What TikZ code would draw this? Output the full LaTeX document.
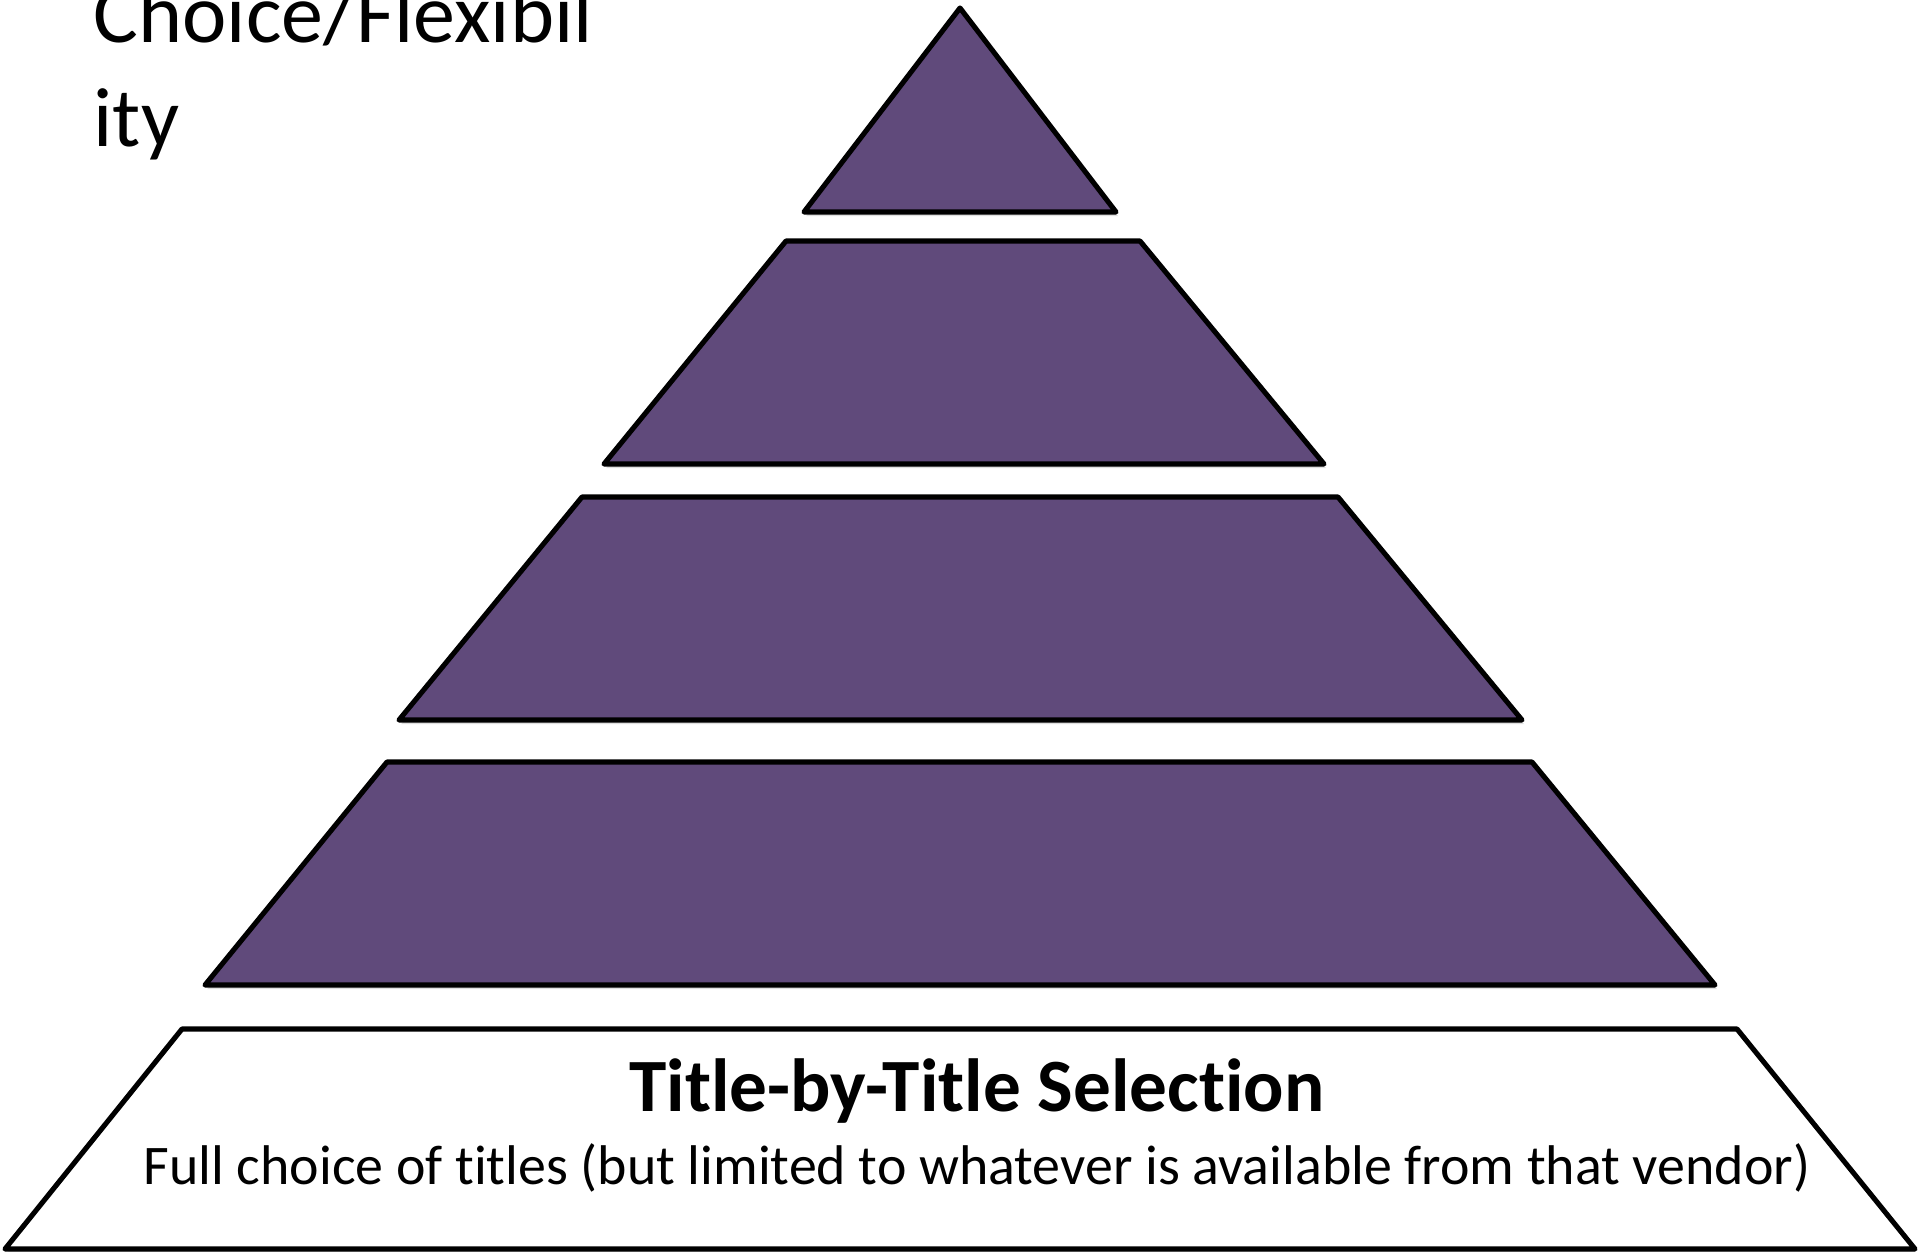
\documentclass[tikz,border=0pt]{standalone}
\usepackage{fontspec}
\setmainfont{Carlito}[RawFeature={-liga}]
\usetikzlibrary{shadows}
\definecolor{tierpurple}{RGB}{96,74,123}
\begin{document}
\begin{tikzpicture}[x=0.01cm,y=-0.01cm,
  tier/.style={draw=black, line width=1.45pt, line join=round,
    drop shadow={opacity=0.25, shadow xshift=0.6pt, shadow yshift=-1.2pt}},
  purpletier/.style={tier, fill=tierpurple},
  whitetier/.style={tier, fill=white},
  caption/.style={inner sep=0pt, anchor=base}]
  \useasboundingbox (0,0) rectangle (1920,1252);

  % pyramid tiers, top to bottom
  \path[purpletier] (960,8) -- (1116,212) -- (804,212) -- cycle;
  \path[purpletier] (786,241) -- (1140,241) -- (1324,464) -- (604,464) -- cycle;
  \path[purpletier] (582,497) -- (1338,497) -- (1522,720) -- (399,720) -- cycle;
  \path[purpletier] (387,762) -- (1532,762) -- (1715,985) -- (205,985) -- cycle;
  \path[whitetier] (182,1029) -- (1737,1029) -- (1915,1249) -- (5,1249) -- cycle;

  % base tier labels
  \node[caption, font=\fontsize{21.4}{25}\selectfont\bfseries] (basetitle) at (977,1111)
    {Title-by-Title Selection};
  \node[caption, font=\fontsize{15.9}{19}\selectfont] (basenote) at (977,1184)
    {Full choice of titles (but limited to whatever is available from that vendor)};

  % axis label, wrapped
  \node[caption, anchor=base west, font=\fontsize{23.9}{29}\selectfont] (axisA) at (93,43)
    {Choice/Flexibil};
  \node[caption, anchor=base west, font=\fontsize{23.9}{29}\selectfont] (axisB) at (93,147)
    {ity};
\end{tikzpicture}
\end{document}
